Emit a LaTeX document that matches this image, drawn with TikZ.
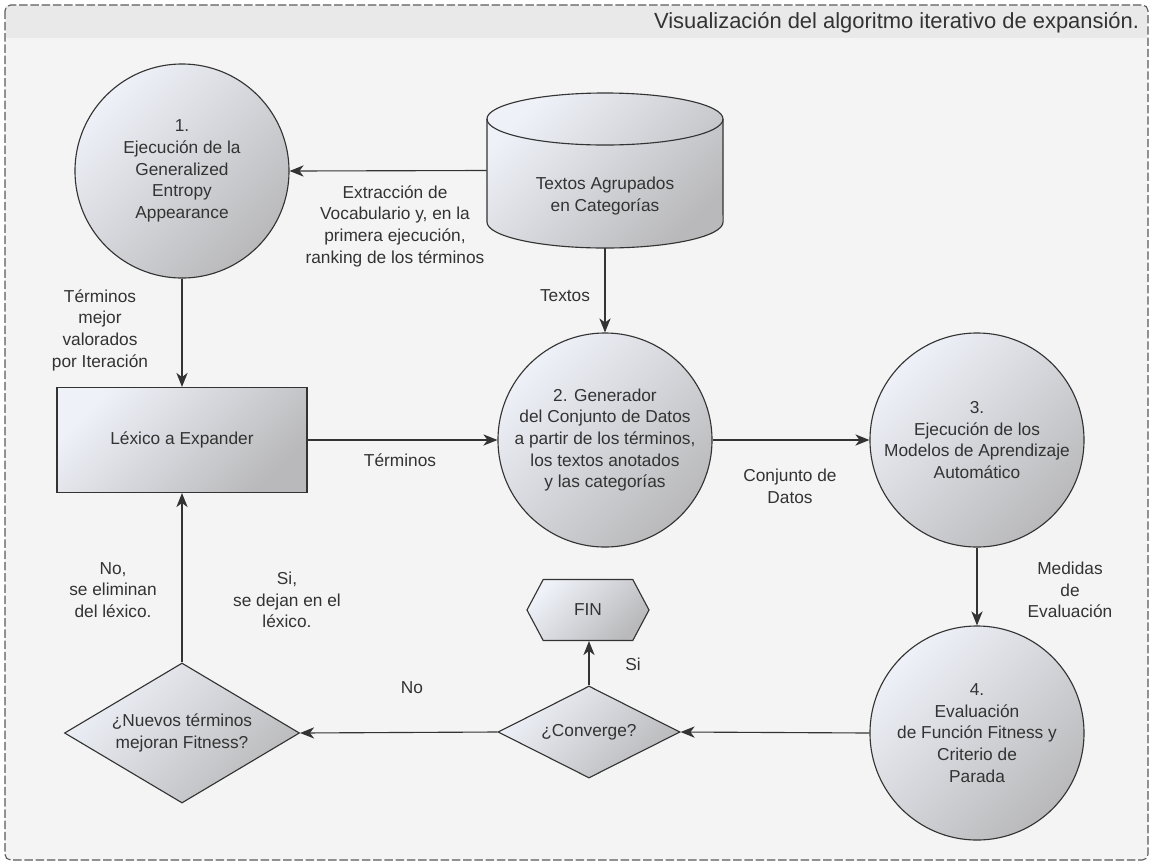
\documentclass[tikz,border=0pt]{standalone}
\usepackage{fontspec}
\setmainfont{Liberation Sans}
\usetikzlibrary{shapes.geometric, shapes.symbols, arrows.meta}

\definecolor{paneback}{HTML}{F4F4F4}
\definecolor{panehead}{HTML}{E9E9E9}
\definecolor{shapelight}{HTML}{EEF1F8}
\definecolor{shapedark}{HTML}{B9B9BB}
\definecolor{inkgray}{HTML}{333333}
\definecolor{framegray}{HTML}{5A5A5A}

\tikzset{
	txt/.style={text=inkgray, font=\fontsize{12.3}{15.4}\selectfont, align=center},
	shaded/.style={draw=inkgray, line width=0.8pt, top color=shapelight, bottom color=shapedark, shading angle=45},
	proc/.style={circle, shaded, txt, minimum size=5.35cm, inner sep=0pt},
	lexbox/.style={rectangle, shaded, txt, minimum width=6.25cm, minimum height=2.625cm},
	decide/.style={diamond, shaded, txt, inner sep=0pt},
	finbox/.style={signal, signal to=west and east, signal pointer angle=124, shaded, txt, minimum width=3.05cm, minimum height=1.525cm},
	flow/.style={draw=inkgray, line width=0.8pt, -{Stealth[length=10pt, width=8pt, inset=3pt]}},
	lbl/.style={txt}
}

\begin{document}
\begin{tikzpicture}[x=0.025cm, y=-0.025cm]
		\useasboundingbox (0,0) rectangle (1153,864);
		\fill[white] (0,0) rectangle (1153,864);
		\fill[paneback, rounded corners=4] (5,5) rectangle (1148,860);
		\fill[panehead] (6,6) rectangle (1147,38);
		\draw[framegray, line width=0.8pt, dash pattern=on 6pt off 2pt, rounded corners=4] (5,5) rectangle (1148,860);
		\node[anchor=east, text=inkgray, font=\fontsize{15.6}{18}\selectfont] (title) at (1144,23) {Visualización del algoritmo iterativo de expansión.};
		
		% data store drawn as a cylinder
		\node[inner sep=0pt, minimum width=5.9cm, minimum height=3.875cm] (store) at (605,170.5) {};
		\coordinate (topl) at (487,119);
		\coordinate (botl) at (487,222);
		\coordinate (topr) at (723,119);
		\path[shaded] (topl) -- (botl) arc[start angle=180, end angle=360, x radius=2.95cm, y radius=0.65cm]
			-- (topr) arc[start angle=0, end angle=180, x radius=2.95cm, y radius=0.65cm] -- cycle;
		\draw[inkgray, line width=0.8pt] (topl) arc[start angle=180, end angle=360, x radius=2.95cm, y radius=0.65cm];
		\node[txt] (storetext) at (605,196) {Textos Agrupados\\en Categorías};
		
		\node[proc] (gea) at (182,171) {1.\\Ejecución de la\\Generalized\\Entropy\\Appearance};
		\node[lexbox] (lex) at (182,440) {Léxico a Expander};
		\node[proc] (gen) at (605,440) {2. Generador\\del Conjunto de Datos\\a partir de los términos,\\los textos anotados\\y las categorías};
		\node[proc] (ml) at (977,440) {3.\\Ejecución de los\\Modelos de Aprendizaje\\Automático};
		\node[proc] (fit) at (977,733) {4.\\Evaluación\\de Función Fitness y\\Criterio de\\Parada};
		\node[finbox] (fin) at (588,610) {FIN};
		\node[decide, aspect=2, minimum width=4.55cm, minimum height=2.3cm] (conv) at (589,732) {¿Converge?};
		\node[decide, aspect=1.7, minimum width=5.875cm, minimum height=3.5cm] (nuevos) at (182,733) {¿Nuevos términos\\mejoran Fitness?};
		
		\draw[flow] (store.west) -- (gea.east);
		\draw[flow] (store.south) -- (gen.north);
		\draw[flow] (gea.south) -- (lex.north);
		\draw[flow] (lex.east) -- (gen.west);
		\draw[flow] (gen.east) -- (ml.west);
		\draw[flow] (ml.south) -- (fit.north);
		\draw[flow] (fit.west) -- (conv.east);
		\draw[flow] (conv.north) -- (conv.north |- fin.south);
		\draw[flow] (conv.west) -- (nuevos.east);
		\draw[flow] (nuevos.north) -- (lex.south);
		
		\node[lbl] (vocab) at (395,226) {Extracción de\\Vocabulario y, en la\\primera ejecución,\\ranking de los términos};
		\node[lbl] (textos) at (565,296) {Textos};
		\node[lbl] (mejores) at (100,330) {Términos\\mejor\\valorados\\por Iteración};
		\node[lbl] (terminos) at (400,460) {Términos};
		\node[lbl] (datos) at (790,486) {Conjunto de\\Datos};
		\node[lbl] (medidas) at (1070,590) {Medidas\\de\\Evaluación};
		\node[lbl] (si) at (633,664) {Si};
		\node[lbl] (no) at (412,688) {No};
		\node[lbl] (eliminan) at (113,590) {No,\\se eliminan\\del léxico.};
		\node[lbl] (dejan) at (287,600) {Si,\\se dejan en el\\léxico.};
	\end{tikzpicture}
\end{document}
